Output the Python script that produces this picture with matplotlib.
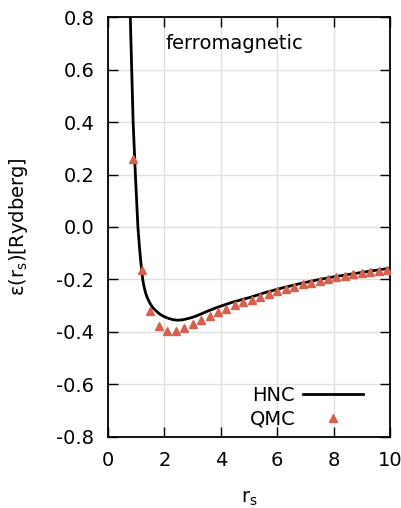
import matplotlib
matplotlib.use("Agg")
import matplotlib.pyplot as plt

plt.rcParams['font.family'] = ['DejaVu Sans']
plt.rcParams['axes.unicode_minus'] = False

# HNC curve
hnc_rs = [0.79, 0.84, 0.89, 0.97, 1.06, 1.11, 1.16, 1.23, 1.28, 1.33, 1.38, 1.43, 1.50, 1.58, 1.67, 1.76, 1.85,
          2.00, 2.14, 2.30, 2.45, 2.62, 2.80, 3.00, 3.20, 3.50, 3.85, 4.40, 5.04,
          5.60, 6.22, 6.80, 7.40, 8.00, 8.58, 9.30, 10.0]
hnc_e = [0.80, 0.60, 0.40, 0.20, 0.00, -0.07, -0.13, -0.20, -0.228, -0.25, -0.266, -0.278, -0.293, -0.306, -0.316, -0.325, -0.333,
         -0.342, -0.348, -0.353, -0.355, -0.354, -0.350, -0.344, -0.336, -0.322, -0.307, -0.287, -0.268,
         -0.249, -0.231, -0.216, -0.202, -0.190, -0.180, -0.168, -0.157]

# QMC points
qmc_rs = [0.9, 1.2, 1.5, 1.8, 2.1, 2.4, 2.7, 3.0, 3.3, 3.6, 3.9, 4.2, 4.5, 4.8, 5.1,
          5.4, 5.7, 6.0, 6.3, 6.6, 6.9, 7.2, 7.5, 7.8, 8.1, 8.4, 8.7, 9.0, 9.3, 9.6, 9.9]
qmc_e = [0.259, -0.164, -0.320, -0.376, -0.395, -0.395, -0.383, -0.368, -0.355, -0.340,
         -0.325, -0.313, -0.298, -0.287, -0.277, -0.265, -0.255, -0.245, -0.235, -0.227,
         -0.218, -0.212, -0.206, -0.199, -0.192, -0.185, -0.180, -0.175, -0.171, -0.168, -0.164]

xticks = [0, 2, 4, 6, 8, 10]
yticks = [-0.8, -0.6, -0.4, -0.2, 0.0, 0.2, 0.4, 0.6, 0.8]

fig = plt.figure(figsize=(4.02, 5.08), dpi=100)
ax = fig.add_axes([0.2687, 0.1398, 0.7015, 0.8267])

ax.plot(hnc_rs, hnc_e, color='black', lw=2.0, label='HNC', zorder=3)
ax.plot(qmc_rs, qmc_e, ls='none', marker='^', ms=5.8, color='#d6604d', label='QMC', zorder=4)

ax.set_xlim(0, 10)
ax.set_ylim(-0.8, 0.8)
ax.set_xticks(xticks)
ax.set_yticks(yticks)
ax.set_yticklabels(['%.1f' % v for v in yticks])
ax.grid(True, color='#e0e0e0', lw=1, zorder=0)
ax.set_axisbelow(True)
ax.tick_params(direction='in', length=7, width=1, top=True, right=True, labelsize=14, pad=10)
for s in ax.spines.values():
    s.set_linewidth(1.3)

ax.set_xlabel(r'r$_\mathrm{s}$', fontsize=14, labelpad=14)
ax.set_ylabel(r'ε(r$_\mathrm{s}$)[Rydberg]', fontsize=14, labelpad=19)
ax.text(0.447, 0.936, 'ferromagnetic', transform=ax.transAxes, ha='center', va='center', fontsize=14)

ax.legend(loc='lower right', bbox_to_anchor=(0.905, 0.02), frameon=False, markerfirst=False,
          fontsize=14, handlelength=3.1, handletextpad=0.4, borderpad=0, borderaxespad=0,
          labelspacing=0.25)

fig.savefig('out.png', dpi=100)
